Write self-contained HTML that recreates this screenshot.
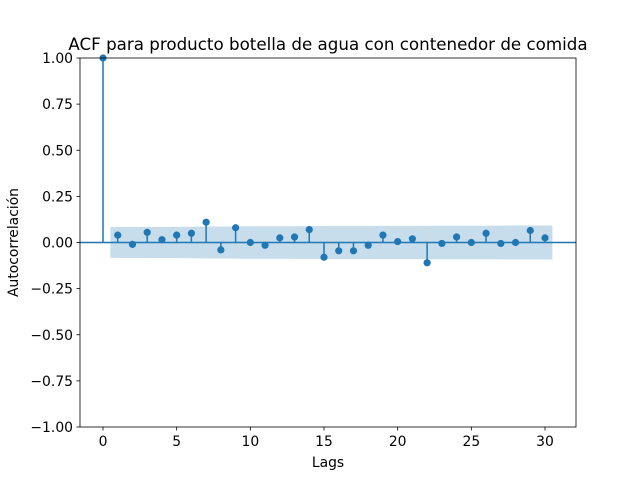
<!DOCTYPE html>
<html><head><meta charset="utf-8"><style>
body{margin:0;background:#fff;}
svg{display:block;font-family:"DejaVu Sans","Liberation Sans",sans-serif;}
</style></head><body>
<svg id="chart" width="640" height="480"></svg>
<script>
const lags=[0,1,2,3,4,5,6,7,8,9,10,11,12,13,14,15,16,17,18,19,20,21,22,23,24,25,26,27,28,29,30];
const acfValues=[1,0.04,-0.01,0.055,0.015,0.04,0.05,0.11,-0.04,0.08,0.0,-0.015,0.025,0.03,0.07,-0.08,-0.045,-0.045,-0.015,0.04,0.005,0.02,-0.11,-0.005,0.03,0.0,0.05,-0.005,0.0,0.065,0.025];
const confBand=[0.083,0.083,0.084,0.084,0.085,0.085,0.085,0.086,0.087,0.087,0.088,0.088,0.088,0.088,0.089,0.089,0.09,0.09,0.09,0.09,0.09,0.09,0.09,0.091,0.091,0.091,0.091,0.091,0.092,0.092,0.092];
const xTicks=[0,5,10,15,20,25,30];
const yTicks=[-1,-0.75,-0.5,-0.25,0,0.25,0.5,0.75,1];
const yTickLabels=["\u22121.00","\u22120.75","\u22120.50","\u22120.25","0.00","0.25","0.50","0.75","1.00"];

const L=80,R=576,T=58,B=427;
const xs=v=>103+v*(442/30);
const ys=v=>242.5-v*184.5;
const svg=document.getElementById('chart');
const NS='http://www.w3.org/2000/svg';
function mk(tag,attrs,parent){const e=document.createElementNS(NS,tag);for(const k in attrs)e.setAttribute(k,attrs[k]);(parent||svg).appendChild(e);return e;}

let pts=[];
for(let i=1;i<lags.length;i++){pts.push([xs(lags[i]-0.5),ys(confBand[i])]);}
pts.push([xs(30.5),ys(confBand[30])]);
let low=[];
low.push([xs(30.5),ys(-confBand[30])]);
for(let i=lags.length-1;i>=1;i--){low.push([xs(lags[i]-0.5),ys(-confBand[i])]);}
const band=mk('polygon',{points:pts.concat(low).map(p=>p.join(',')).join(' '),fill:'#1f77b4','fill-opacity':'0.25'});



const zl=mk('line',{x1:L,x2:R,y1:ys(0),y2:ys(0),stroke:'#1f77b4','stroke-width':1.5});



for(let i=0;i<lags.length;i++){
  const s=mk('line',{x1:xs(lags[i]),x2:xs(lags[i]),y1:ys(0),y2:ys(acfValues[i]),stroke:'#1f77b4','stroke-width':1.5});
  
  
  const c=mk('circle',{cx:xs(lags[i]),cy:ys(acfValues[i]),r:3.6,fill:'#1f77b4'});
  
  
}

const frame=mk('rect',{x:L,y:T,width:R-L,height:B-T,fill:'none',stroke:'#000','stroke-width':0.8});



xTicks.forEach(v=>{
  mk('line',{x1:xs(v),x2:xs(v),y1:B,y2:B+3.5,stroke:'#000','stroke-width':0.8});
  const t=mk('text',{x:xs(v),y:B+19,'text-anchor':'middle','font-size':13.9,fill:'#000'});
  t.textContent=v;
  
  
});
yTicks.forEach((v,i)=>{
  mk('line',{x1:L-3.5,x2:L,y1:ys(v),y2:ys(v),stroke:'#000','stroke-width':0.8});
  const t=mk('text',{x:L-7,y:ys(v)+5,'text-anchor':'end','font-size':13.9,fill:'#000'});
  t.textContent=yTickLabels[i];
  
  
});

const title=mk('text',{x:(L+R)/2,y:50,'text-anchor':'middle','font-size':16.7,fill:'#000'});
title.textContent='ACF para producto botella de agua con contenedor de comida';


const xl=mk('text',{x:(L+R)/2,y:467,'text-anchor':'middle','font-size':13.9,fill:'#000'});
xl.textContent='Lags';


const yl=mk('text',{x:18,y:(T+B)/2,'text-anchor':'middle','font-size':13.9,fill:'#000',transform:'rotate(-90 18 '+((T+B)/2)+')'});
yl.textContent='Autocorrelación';


</script>
</body></html>
